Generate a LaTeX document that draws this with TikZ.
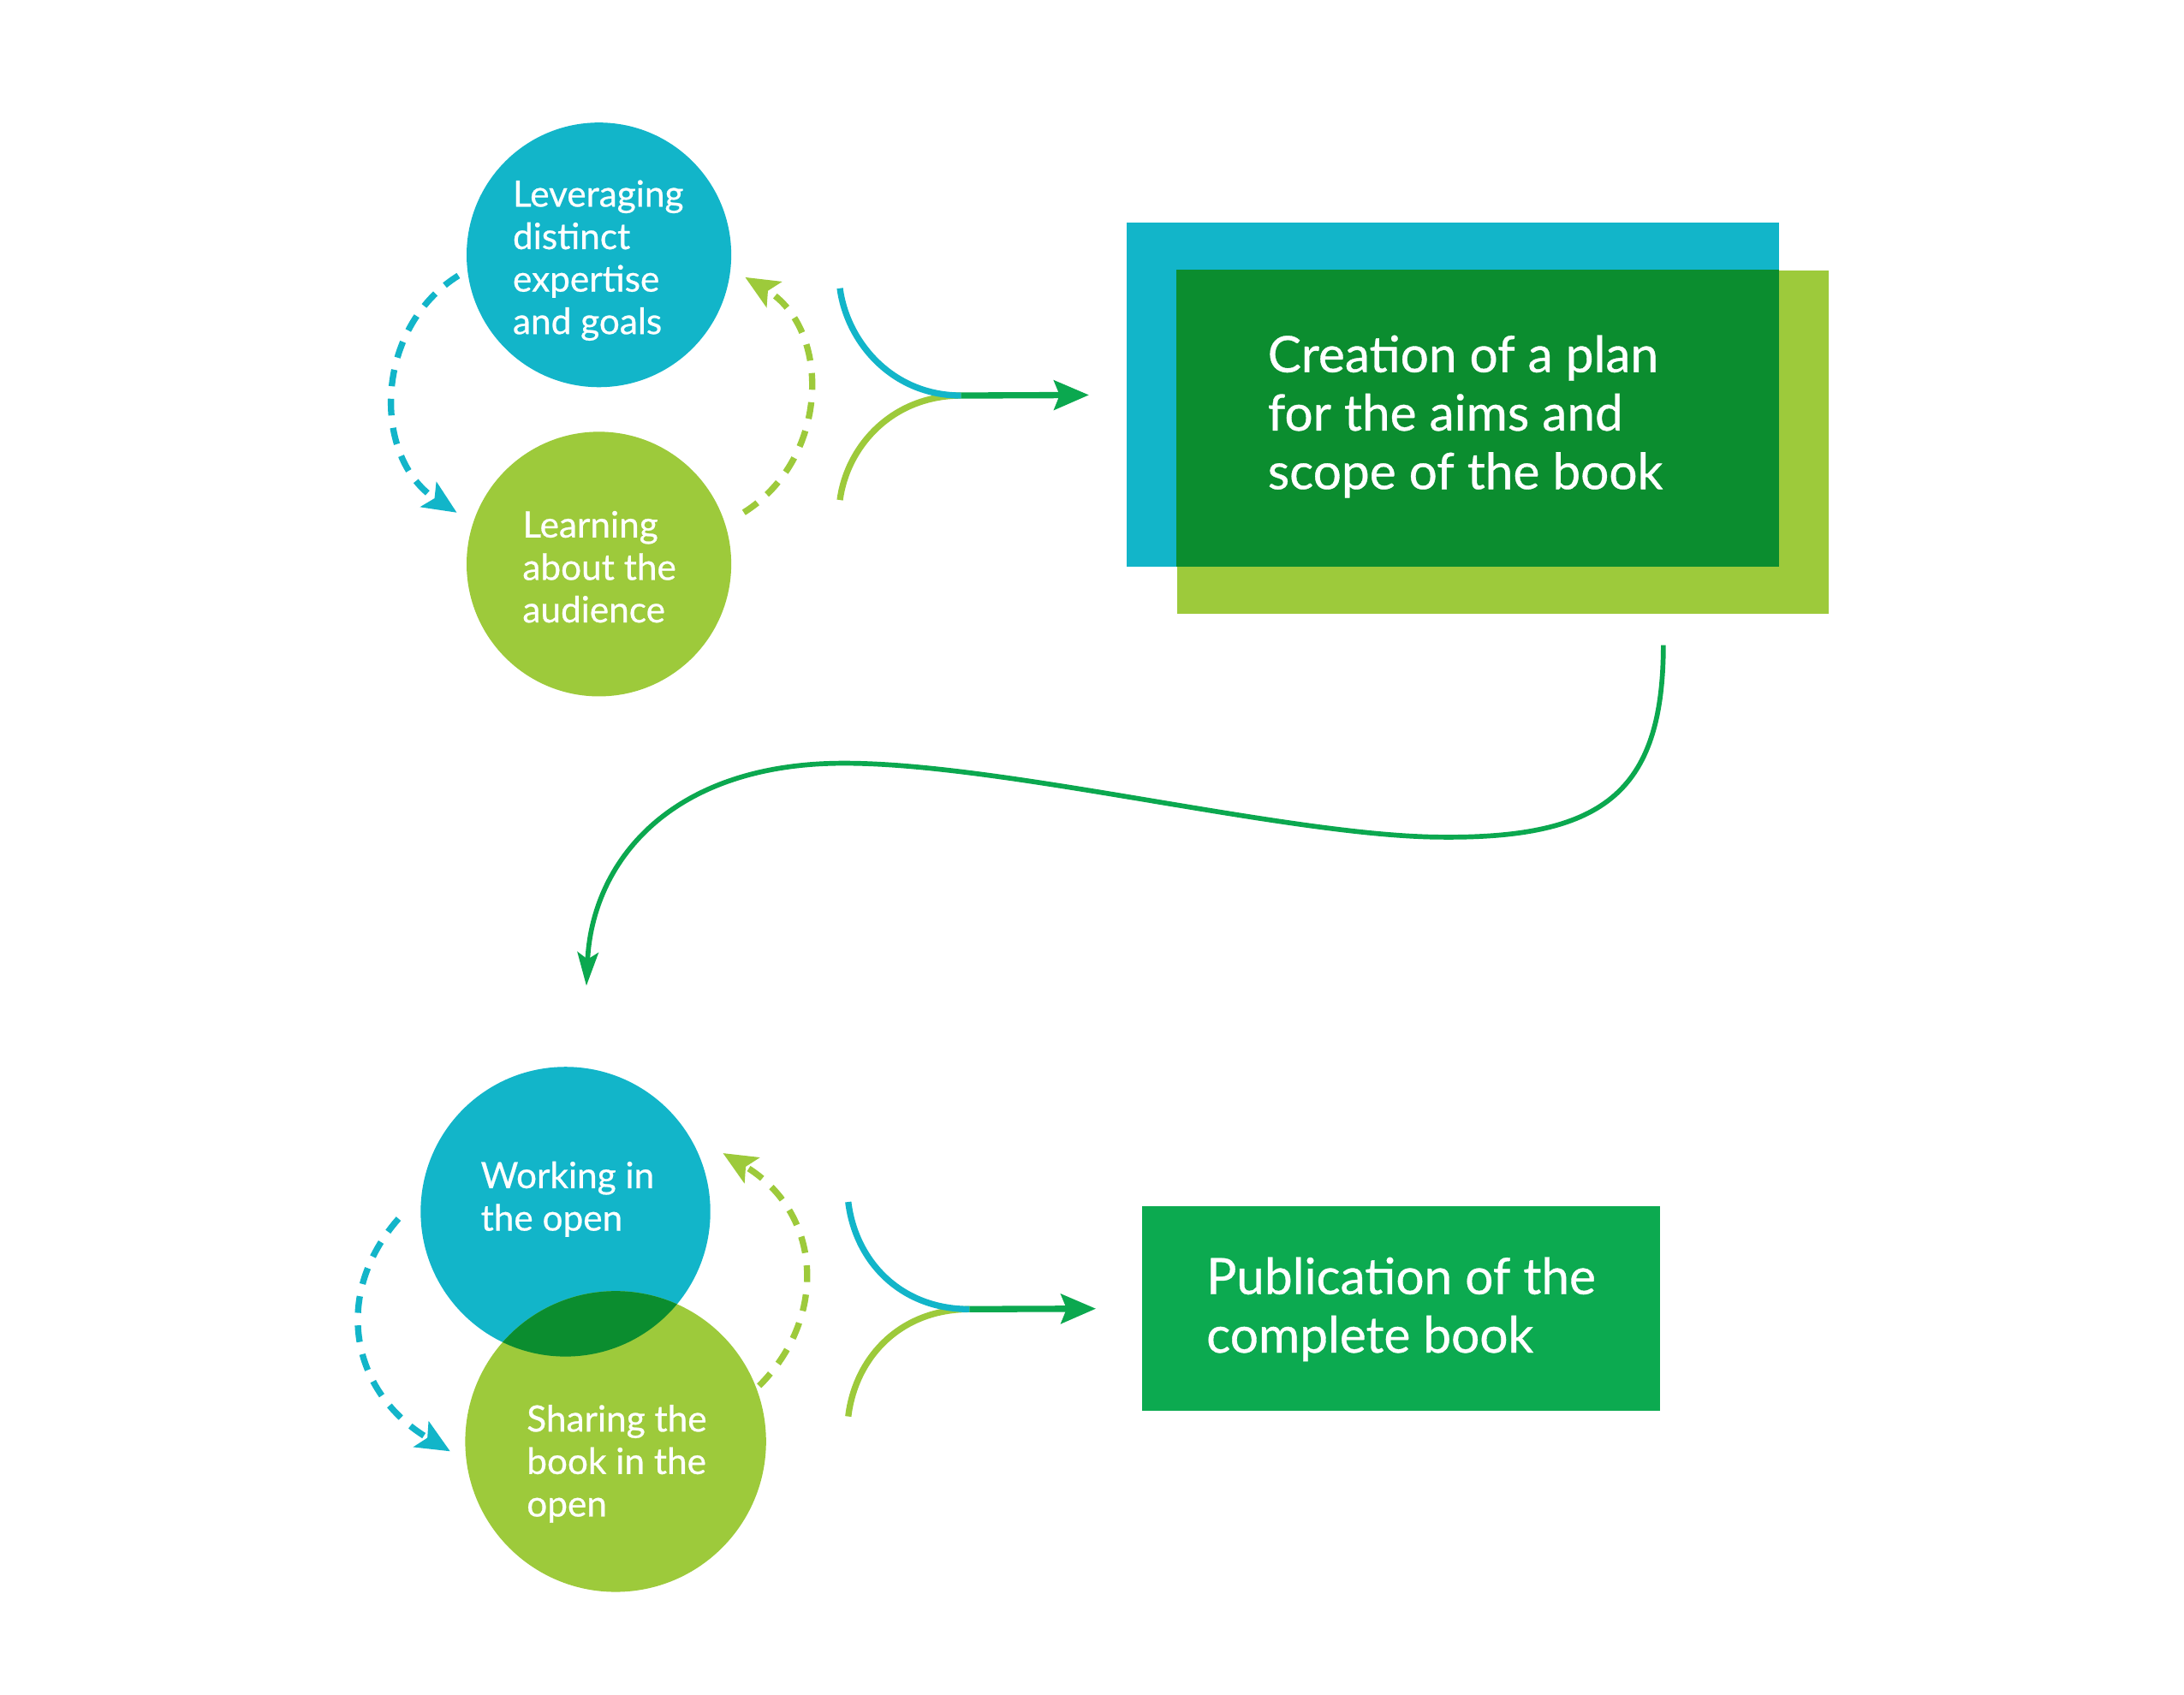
\documentclass[tikz,border=0pt]{standalone}
\usepackage{fontspec}
\setmainfont{Lato}[FakeBold=0.6,AutoFakeBold=0.6]
\usetikzlibrary{arrows.meta,calc}
\definecolor{cy}{HTML}{12B5C9}
\definecolor{lm}{HTML}{9DCA3B}
\definecolor{dk}{HTML}{0B8D2F}
\definecolor{ag}{HTML}{0BA84F}
\definecolor{pb}{HTML}{0CAA50}
\begin{document}
\begin{tikzpicture}[x=1pt,y=-1pt,
  circ/.style={circle,inner sep=0pt,minimum size=#1},
  boxr/.style={rectangle,inner sep=0pt},
  lbl/.style={text=white,anchor=west,align=left,inner sep=0pt,font=\fontsize{26}{30.5}\bfseries},
  big/.style={text=white,anchor=west,align=left,inner sep=0pt,font=\fontsize{36}{42}\bfseries},
  dsh/.style={line width=4.5pt,dash pattern=on 12pt off 9pt,-{Stealth[length=24pt,width=21pt,inset=5pt]}},
  mrg/.style={line width=4.5pt},
  harrow/.style={line width=4.5pt,draw=ag,-{Stealth[length=25pt,width=21pt,inset=4pt]}},
]
\useasboundingbox (0,0) rectangle (1568,1217);

% top pair of circles
\node[circ=190pt,fill=cy] (A) at (430,183) {};
\node[circ=190pt,fill=lm] (B) at (430,405) {};
\node[lbl] (At) at (368,187) {Leveraging\\distinct\\expertise\\and goals};
\node[lbl] (Bt) at (375,407) {Learning\\about the\\audience};

\draw[dsh,cy] ($(A)+(188.4:102pt)$) .. controls (268,236) and (267,329) .. ($(B)+(160.1:108.5pt)$);
\draw[dsh,lm] ($(B)+(19.6:110.4pt)$) .. controls (596,329) and (597,236) .. ($(A)+(-8.7:106.2pt)$);

% top rectangles
\node[boxr,fill=cy,minimum width=468pt,minimum height=247pt] (R1) at (1043,283.5) {};
\node[boxr,fill=lm,minimum width=468pt,minimum height=247pt] (R2) at (1079,317.5) {};
\fill[dk] (R2.north west) rectangle (R1.south east);
\node[big] (Rt) at (910,299) {Creation of a plan\\for the aims and\\scope of the book};

% top merge arrow
\coordinate (t1) at (603,207);
\coordinate (t2) at (603,359);
\coordinate (j1) at (690,284);
\draw[mrg,lm] (t2) .. controls (608,321) and (640,284) .. (j1);
\draw[mrg,cy] (t1) .. controls (608,245) and (640,284) .. (j1);
\draw[harrow,shorten >=27pt] (j1) -- (R1.west);

% bottom pair of circles
\node[circ=208pt,fill=cy] (C) at (406,870) {};
\node[circ=216pt,fill=lm] (D) at (442,1035) {};
\begin{scope}
  \clip (C.center) circle[radius=104pt];
  \fill[dk] (D.center) circle[radius=108pt];
\end{scope}
\node[lbl] (Ct) at (345,861) {Working in\\the open};
\node[lbl] (Dt) at (378,1051) {Sharing the\\book in the\\open};

\draw[dsh,cy] ($(C)+(182.4:120pt)$) .. controls (238,930) and (252,1000) .. ($(D)+(183.4:119pt)$);
\draw[dsh,lm] ($(D)+(21.2:110.5pt)$) .. controls (595,945) and (590,870) .. ($(C)+(20.4:120.6pt)$);

% publication box
\node[boxr,fill=pb,minimum width=372pt,minimum height=147pt] (P) at (1006,939.5) {};
\node[big] (Pt) at (866,940) {Publication of the\\complete book};

% bottom merge arrow
\coordinate (b1) at (609,863);
\coordinate (b2) at (609,1017);
\coordinate (j2) at (696,940);
\draw[mrg,lm] (b2) .. controls (614,975) and (646,940) .. (j2);
\draw[mrg,cy] (b1) .. controls (614,905) and (646,940) .. (j2);
\draw[harrow,shorten >=33pt] (j2) -- (P.west);

% S-shaped connector
\coordinate (s0) at ([xshift=-119pt,yshift=-22pt]R2.south east);
\coordinate (s1) at ([xshift=15pt,yshift=58pt]C.north);
\draw[line width=3.5pt,ag,-{Stealth[length=24pt,width=15pt,inset=5pt]}]
  (s0) .. controls (1194,570) and (1150,603) .. (1030,601)
       .. controls (920,599) and (720,548) .. (606,548)
       .. controls (480,548) and (425,620) .. (s1);
\end{tikzpicture}
\end{document}
